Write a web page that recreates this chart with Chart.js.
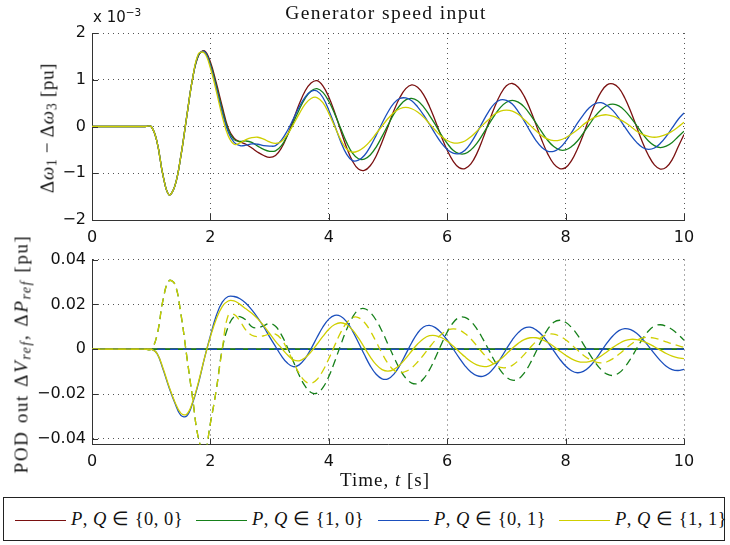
<!DOCTYPE html>
<html><head><meta charset="utf-8">
<script src="https://cdn.jsdelivr.net/npm/chart.js@4.4.1/dist/chart.umd.min.js"></script>
<style>
html,body{margin:0;padding:0;background:#fff;}
body{width:730px;height:545px;position:relative;overflow:hidden;font-family:"Liberation Serif",serif;color:#111;}
canvas{position:absolute;left:0;}
#c1{top:0;}
#c2{top:240px;}
.t{position:absolute;white-space:nowrap;line-height:1;}
.rot{transform:translate(-50%,-50%) rotate(-90deg);}
sub{font-size:72%;vertical-align:-0.25em;line-height:0;}
sup{font-size:70%;vertical-align:0.55em;line-height:0;}
#legend{position:absolute;left:3px;top:497px;width:722px;height:44px;border:1.5px solid #222;box-sizing:border-box;}
.lg-line{position:absolute;top:22px;height:0;border-top:1.3px solid;width:51px;}
.lg-text{position:absolute;top:12px;font-size:18.5px;letter-spacing:0.5px;white-space:nowrap;line-height:1;}
</style></head>
<body>
<canvas id="c1" width="730" height="245"></canvas>
<canvas id="c2" width="730" height="230"></canvas>

<div class="t" style="left:386px;top:3px;transform:translateX(-50%);font-size:19.5px;letter-spacing:1.4px;">Generator speed input</div>
<div class="t" style="left:93px;top:10px;font-family:'DejaVu Sans',sans-serif;font-size:15px;">x 10<sup>−3</sup></div>
<div class="t rot" style="left:47px;top:128px;font-size:19px;letter-spacing:0.7px;">Δ<i>ω</i><sub>1</sub> − Δ<i>ω</i><sub>3</sub> [pu]</div>
<div class="t rot" style="left:21px;top:354px;font-size:19px;letter-spacing:1.6px;word-spacing:1px;">POD out Δ<i>V<sub>ref</sub></i>, Δ<i>P<sub>ref</sub></i> [pu]</div>
<div class="t" style="left:385px;top:470px;transform:translateX(-50%);font-size:19px;letter-spacing:1px;">Time, <i>t</i> [s]</div>

<div id="legend">
  <div class="lg-line" style="left:11px;border-color:#7a1010;"></div>
  <div class="lg-text" style="left:67px;"><i>P</i>, <i>Q</i> ∈ {0, 0}</div>
  <div class="lg-line" style="left:192px;border-color:#16801a;"></div>
  <div class="lg-text" style="left:248px;"><i>P</i>, <i>Q</i> ∈ {1, 0}</div>
  <div class="lg-line" style="left:374px;border-color:#1b4fbd;"></div>
  <div class="lg-text" style="left:430px;"><i>P</i>, <i>Q</i> ∈ {0, 1}</div>
  <div class="lg-line" style="left:555px;border-color:#cfcf00;"></div>
  <div class="lg-text" style="left:611px;"><i>P</i>, <i>Q</i> ∈ {1, 1}</div>
</div>

<script>
// ---------- DATA ----------
const T = [0,0.1,0.2,0.3,0.4,0.5,0.6,0.7,0.8,0.9,1.0,
1.1,1.2,1.3,1.4,1.5,1.6,1.7,1.8,1.9,2.0,
2.1,2.2,2.3,2.4,2.5,2.6,2.7,2.8,2.9,3.0,
3.1,3.2,3.3,3.4,3.5,3.6,3.7,3.8,3.9,4.0,
4.1,4.2,4.3,4.4,4.5,4.6,4.7,4.8,4.9,5.0,
5.1,5.2,5.3,5.4,5.5,5.6,5.7,5.8,5.9,6.0,
6.1,6.2,6.3,6.4,6.5,6.6,6.7,6.8,6.9,7.0,
7.1,7.2,7.3,7.4,7.5,7.6,7.7,7.8,7.9,8.0,
8.1,8.2,8.3,8.4,8.5,8.6,8.7,8.8,8.9,9.0,
9.1,9.2,9.3,9.4,9.5,9.6,9.7,9.8,9.9,10.0];

const xTicks = [0,2,4,6,8,10];
const speedTicks = [-2,-1,0,1,2];
const podTicks = [-0.04,-0.02,0,0.02,0.04];
const seriesNames = ["P,Q ∈ {0,0}","P,Q ∈ {1,0}","P,Q ∈ {0,1}","P,Q ∈ {1,1}"];

// generator speed difference (x 10^-3 pu)
const speed00 = [0,0,0,0,0,0,0,0,0,0,0,
-0.34,-1.05,-1.46,-1.27,-0.64,0.21,1.03,1.52,1.62,1.38,
0.93,0.43,-0.03,-0.25,-0.33,-0.38,-0.46,-0.55,-0.62,-0.66,
-0.62,-0.46,-0.19,0.14,0.48,0.76,0.93,0.98,0.87,0.63,
0.30,-0.08,-0.45,-0.74,-0.91,-0.94,-0.84,-0.63,-0.33,0.00,
0.34,0.62,0.81,0.89,0.84,0.68,0.43,0.12,-0.21,-0.51,
-0.74,-0.88,-0.90,-0.80,-0.58,-0.27,0.08,0.41,0.69,0.87,
0.92,0.84,0.65,0.37,0.04,-0.30,-0.59,-0.80,-0.90,-0.88,
-0.73,-0.48,-0.17,0.18,0.49,0.74,0.89,0.91,0.82,0.61,
0.32,-0.01,-0.34,-0.62,-0.82,-0.91,-0.87,-0.71,-0.44,-0.17];

const speed10 = [0,0,0,0,0,0,0,0,0,0,0,
-0.34,-1.05,-1.46,-1.27,-0.64,0.21,1.03,1.53,1.60,1.33,
0.87,0.36,-0.07,-0.28,-0.32,-0.31,-0.34,-0.42,-0.49,-0.53,
-0.52,-0.41,-0.19,0.08,0.36,0.60,0.76,0.81,0.73,0.54,
0.27,-0.04,-0.34,-0.57,-0.69,-0.70,-0.61,-0.44,-0.21,0.03,
0.27,0.45,0.57,0.60,0.55,0.42,0.24,0.04,-0.18,-0.36,
-0.51,-0.58,-0.58,-0.50,-0.36,-0.17,0.04,0.24,0.41,0.52,
0.56,0.52,0.42,0.26,0.07,-0.12,-0.30,-0.43,-0.50,-0.50,
-0.43,-0.31,-0.14,0.04,0.22,0.36,0.45,0.48,0.44,0.34,
0.19,0.02,-0.16,-0.31,-0.41,-0.45,-0.42,-0.34,-0.22,-0.10];

const speed01 = [0,0,0,0,0,0,0,0,0,0,0,
-0.34,-1.05,-1.46,-1.27,-0.64,0.21,1.03,1.54,1.60,1.30,
0.82,0.30,-0.12,-0.34,-0.41,-0.40,-0.37,-0.38,-0.41,-0.42,
-0.41,-0.29,-0.09,0.16,0.42,0.63,0.75,0.76,0.62,0.35,
0.02,-0.32,-0.59,-0.73,-0.72,-0.62,-0.43,-0.19,0.07,0.31,
0.50,0.60,0.61,0.55,0.42,0.25,0.05,-0.16,-0.35,-0.49,
-0.57,-0.58,-0.51,-0.35,-0.14,0.10,0.32,0.49,0.57,0.56,
0.48,0.32,0.12,-0.10,-0.30,-0.45,-0.53,-0.53,-0.46,-0.32,
-0.13,0.07,0.25,0.40,0.49,0.51,0.45,0.34,0.18,-0.01,
-0.19,-0.34,-0.45,-0.49,-0.46,-0.36,-0.21,-0.03,0.15,0.29];

const speed11 = [0,0,0,0,0,0,0,0,0,0,0,
-0.34,-1.05,-1.46,-1.27,-0.64,0.21,1.03,1.56,1.57,1.25,
0.75,0.22,-0.20,-0.38,-0.35,-0.28,-0.24,-0.23,-0.27,-0.33,
-0.36,-0.32,-0.17,0.04,0.27,0.48,0.60,0.62,0.51,0.28,
0.00,-0.28,-0.48,-0.55,-0.52,-0.44,-0.31,-0.15,0.01,0.17,
0.30,0.38,0.41,0.38,0.31,0.20,0.06,-0.08,-0.21,-0.30,
-0.35,-0.35,-0.31,-0.22,-0.10,0.03,0.15,0.26,0.33,0.35,
0.33,0.26,0.15,0.03,-0.09,-0.20,-0.27,-0.30,-0.29,-0.24,
-0.16,-0.07,0.04,0.13,0.20,0.24,0.25,0.22,0.16,0.09,
0.00,-0.10,-0.17,-0.21,-0.23,-0.21,-0.17,-0.10,-0.01,0.09];

// POD outputs (pu): solid = dVref, dashed = dPref
const flatT = [0, 10];
const flatZero = [0, 0];

const vref01 = [0,0,0,0,0,0,0,0,0,0,0,
-0.002,-0.009,-0.017,-0.024,-0.0295,-0.0298,-0.024,-0.015,-0.004,0.006,
0.015,0.021,0.0235,0.0235,0.0225,0.0205,0.0175,0.014,0.010,0.0055,
0.0012,-0.003,-0.0062,-0.0078,-0.0070,-0.0042,0.0002,0.0052,0.0099,0.0134,
0.0151,0.0147,0.0123,0.0082,0.0030,-0.0024,-0.0074,-0.0112,-0.0132,-0.0132,
-0.0111,-0.0072,-0.0022,0.0029,0.0072,0.0099,0.0106,0.0096,0.0073,0.0041,
0.0002,-0.0038,-0.0074,-0.0102,-0.0118,-0.0121,-0.0108,-0.0080,-0.0042,0.0001,
0.0042,0.0074,0.0094,0.0098,0.0086,0.0063,0.0030,-0.0007,-0.0044,-0.0075,
-0.0096,-0.0105,-0.0099,-0.0079,-0.0048,-0.0010,0.0028,0.0060,0.0083,0.0092,
0.0087,0.0071,0.0045,0.0014,-0.0020,-0.0051,-0.0076,-0.0091,-0.0095,-0.0090];

const vref11 = [0,0,0,0,0,0,0,0,0,0,0,
-0.002,-0.0085,-0.0165,-0.0235,-0.0285,-0.029,-0.0235,-0.0145,-0.004,0.0055,
0.0135,0.019,0.0215,0.0215,0.020,0.018,0.016,0.0135,0.0105,0.007,
0.0035,0.0005,-0.0025,-0.0047,-0.0052,-0.0038,-0.0012,0.0022,0.0057,0.0089,
0.0110,0.0118,0.0110,0.0086,0.0050,0.0008,-0.0034,-0.0069,-0.0091,-0.0098,
-0.0090,-0.0070,-0.0041,-0.0008,0.0023,0.0047,0.0060,0.0061,0.0052,0.0036,
0.0014,-0.0010,-0.0034,-0.0055,-0.0070,-0.0077,-0.0075,-0.0063,-0.0045,-0.0021,
0.0004,0.0026,0.0043,0.0051,0.0051,0.0043,0.0030,0.0012,-0.0008,-0.0027,
-0.0043,-0.0054,-0.0058,-0.0055,-0.0045,-0.0030,-0.0011,0.0008,0.0025,0.0038,
0.0044,0.0043,0.0036,0.0025,0.0011,-0.0004,-0.0019,-0.0031,-0.0039,-0.0042];

const pref10 = [0,0,0,0,0,0,0,0,0,0,0,
0.0065,0.022,0.0305,0.029,0.016,-0.003,-0.022,-0.040,-0.046,-0.033,
-0.018,0.000,0.010,0.0145,0.0145,0.013,0.010,0.0095,0.0105,0.0115,
0.0102,0.0064,0.0009,-0.0054,-0.0116,-0.0165,-0.0193,-0.0196,-0.0171,-0.0122,
-0.0055,0.0018,0.0087,0.0142,0.0175,0.0181,0.0164,0.0129,0.0080,0.0022,
-0.0036,-0.0089,-0.0129,-0.0151,-0.0153,-0.0132,-0.0092,-0.0038,0.0021,0.0076,
0.0118,0.0141,0.0142,0.0124,0.0091,0.0047,-0.0002,-0.0052,-0.0094,-0.0124,
-0.0138,-0.0133,-0.0107,-0.0064,-0.0011,0.0044,0.0090,0.0120,0.0129,0.0120,
0.0097,0.0064,0.0023,-0.0020,-0.0059,-0.0091,-0.0111,-0.0117,-0.0106,-0.0080,
-0.0042,0.0003,0.0046,0.0081,0.0103,0.0109,0.0102,0.0088,0.0066,0.0040];

const pref11 = [0,0,0,0,0,0,0,0,0,0,0,
0.0065,0.022,0.0305,0.029,0.016,-0.003,-0.022,-0.040,-0.046,-0.033,
-0.018,0.000,0.015,0.0155,0.0125,0.0085,0.0062,0.0056,0.006,0.0067,
0.0067,0.0044,-0.0001,-0.0056,-0.0108,-0.0143,-0.0152,-0.0135,-0.0096,-0.0043,
0.0017,0.0074,0.0117,0.0141,0.0141,0.0120,0.0082,0.0033,-0.0019,-0.0064,
-0.0094,-0.0105,-0.0099,-0.0083,-0.0057,-0.0026,0.0008,0.0040,0.0066,0.0084,
0.0091,0.0086,0.0070,0.0046,0.0015,-0.0017,-0.0046,-0.0068,-0.0081,-0.0082,
-0.0072,-0.0051,-0.0024,0.0006,0.0034,0.0055,0.0066,0.0067,0.0058,0.0042,
0.0020,-0.0004,-0.0027,-0.0045,-0.0057,-0.0061,-0.0056,-0.0042,-0.0023,-0.0001,
0.0021,0.0039,0.0050,0.0053,0.0049,0.0042,0.0033,0.0024,0.0016,0.0008];

// ---------- STYLE ----------
const COL = {red:'#7a1010', green:'#16801a', blue:'#1b4fbd', yellow:'#cfcf00'};
const LW = 1.3;
const DASH = [8,5];
const TICK_FONT = {family:'DejaVu Sans', size:16};

function pts(xs, ys){ return ys.map((y,i)=>({x:xs[i], y:y})); }
function ds(label, xs, ys, color, dashed, w){
  return {label, data: pts(xs, ys), borderColor: color, borderWidth: w || LW,
    borderDash: dashed ? DASH : [], pointRadius: 0, tension: 0.4, fill: false};
}

const inwardTicks = {
  id: 'inwardTicks',
  afterDraw(chart){
    const ctx = chart.ctx, a = chart.chartArea, xs = chart.scales.x, ys = chart.scales.y;
    ctx.save();
    ctx.strokeStyle = '#333'; ctx.lineWidth = 1; ctx.setLineDash([]);
    ctx.beginPath();
    xs.ticks.forEach(t => { const p = Math.round(xs.getPixelForValue(t.value)) + 0.5;
      ctx.moveTo(p, a.bottom); ctx.lineTo(p, a.bottom - 6); });
    ys.ticks.forEach(t => { const p = Math.round(ys.getPixelForValue(t.value)) + 0.5;
      ctx.moveTo(a.left, p); ctx.lineTo(a.left + 6, p); });
    ctx.stroke();
    ctx.restore();
  }
};

function minusFmt(v){ return v < 0 ? '\u2212' + Math.abs(v) : String(v); }
function podFmt(v){ if (Math.abs(v) < 1e-9) return '0'; return (v < 0 ? '\u2212' : '') + Math.abs(v).toFixed(2); }

function makeChart(id, datasets, yMin, yMax, yFmt, tickVals, pad, xH){
  return new Chart(document.getElementById(id), {
    type: 'line',
    data: { datasets },
    options: {
      responsive: false, animation: false, devicePixelRatio: 1,
      layout: { padding: pad },
      plugins: { legend: {display:false}, tooltip: {enabled:false}, title: {display:false} },
      scales: {
        x: { type:'linear', min:0, max:10,
          afterBuildTicks: s => { s.ticks = xTicks.map(v => ({value:v})); },
          afterFit: s => { s.height = xH; },
          grid: { color:'#555', lineWidth:1, drawTicks:false },
          border: { display:true, color:'#333', width:1, dash:[1,4] },
          ticks: { padding: 8, color:'#111', font:TICK_FONT, callback: v => String(v), maxRotation:0 }
        },
        y: { type:'linear', min:yMin, max:yMax,
          afterBuildTicks: s => { s.ticks = tickVals.map(v => ({value:v})); },
          afterFit: s => { s.width = 92; },
          grid: { color:'#555', lineWidth:1, drawTicks:false },
          border: { display:true, color:'#333', width:1, dash:[1,4] },
          ticks: { padding: 6, color:'#111', font:TICK_FONT, callback: yFmt }
        }
      }
    },
    plugins: [inwardTicks]
  });
}

const topSets = [
  ds(seriesNames[3], T, speed11, COL.yellow, false),
  ds(seriesNames[2], T, speed01, COL.blue, false),
  ds(seriesNames[1], T, speed10, COL.green, false),
  ds(seriesNames[0], T, speed00, COL.red, false)
];
const botSets = [
  ds(seriesNames[3]+' dP', T, pref11, COL.yellow, true),
  ds(seriesNames[3]+' dV', T, vref11, COL.yellow, false),
  ds(seriesNames[2]+' dP', flatT, flatZero, COL.blue, true, 1.6),
  ds(seriesNames[2]+' dV', T, vref01, COL.blue, false),
  ds(seriesNames[1]+' dP', T, pref10, COL.green, true),
  ds(seriesNames[1]+' dV', flatT, flatZero, COL.green, false, 1.8),
  ds(seriesNames[0]+' dP', flatT, flatZero, COL.red, true),
  ds(seriesNames[0]+' dV', flatT, flatZero, COL.red, false)
];

makeChart('c1', topSets, -2, 2, minusFmt, speedTicks, {top:33, right:46, left:0, bottom:0}, 25);
makeChart('c2', botSets, -0.0425, 0.04, podFmt, podTicks, {top:19.5, right:46, left:0, bottom:0}, 25.5);
</script>
</body></html>
